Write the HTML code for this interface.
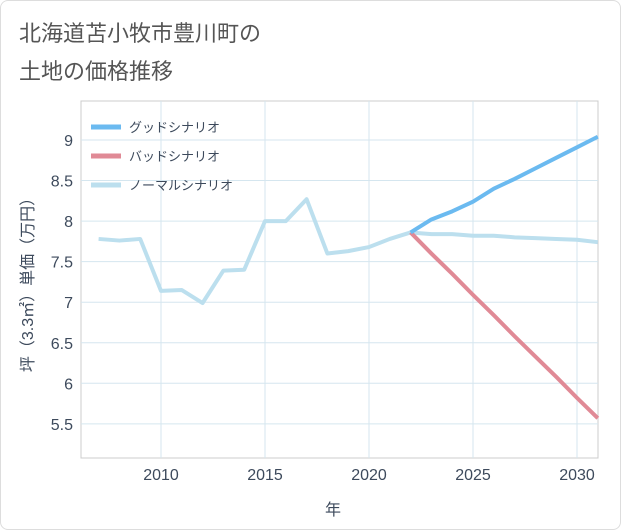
<!DOCTYPE html>
<html><head><meta charset="utf-8"><style>
body{margin:0;background:#fff;}
#card{position:absolute;left:0;top:0;width:619px;height:528px;border:1px solid #ddd;border-radius:8px;background:#fff;overflow:hidden;}
.t{font-family:"Liberation Sans","Noto Sans CJK JP",sans-serif;}
</style></head><body>
<div id="card">
<svg id="chart" width="621" height="530">
<text class="t" x="18" y="40" font-size="22" fill="#555">北海道苫小牧市豊川町の</text>
<text class="t" x="18" y="78" font-size="22" fill="#555">土地の価格推移</text>
<g id="grid"></g><g id="axes"></g><g id="series"></g><g id="legend"></g>
<text class="t" x="332" y="514" font-size="16" fill="#3d4a5c" text-anchor="middle">年</text>
<text class="t" transform="translate(32,280) rotate(-90)" font-size="16" fill="#3d4a5c" text-anchor="middle">坪（3.3㎡）単価（万円）</text>
</svg></div>
<script>
const years=[2007,2008,2009,2010,2011,2012,2013,2014,2015,2016,2017,2018,2019,2020,2021,2022,2023,2024,2025,2026,2027,2028,2029,2030,2031];
const normal=[7.78,7.76,7.78,7.14,7.15,6.99,7.39,7.40,8.0,8.0,8.27,7.6,7.63,7.68,7.78,7.86,7.84,7.84,7.82,7.82,7.8,7.79,7.78,7.77,7.74];
const goodYears=[2022,2023,2024,2025,2026,2027,2028,2029,2030,2031];
const good=[7.86,8.02,8.12,8.24,8.4,8.52,8.65,8.78,8.91,9.04];
const bad=[7.86,7.6,7.35,7.09,6.84,6.58,6.33,6.08,5.82,5.57];
const xTicks=[2010,2015,2020,2025,2030];
const yTicks=[5.5,6,6.5,7,7.5,8,8.5,9];
const seriesNames=["グッドシナリオ","バッドシナリオ","ノーマルシナリオ"];
const colors=["#6bbaf0","#e08a96","#bcdfee"];
const L=80,R=597,T=100,B=457;
const X=y=>160+(y-2010)*20.8;
const Y=v=>139+(9-v)*81.1;
const ns="http://www.w3.org/2000/svg";
function mk(p,tag,a){const e=document.createElementNS(ns,tag);for(const k in a)e.setAttribute(k,a[k]);document.getElementById(p).appendChild(e);return e;}
let r=mk('grid','rect',{x:L,y:T,width:R-L,height:B-T,fill:'none',stroke:'#ccc'});

yTicks.forEach(v=>{let l=mk('grid','line',{x1:L,x2:R,y1:Y(v),y2:Y(v),stroke:'#d5e6ef'});

let t=mk('axes','text',{x:L-8,y:Y(v)+6,'font-size':16,fill:'#3d4a5c','text-anchor':'end',class:'t'});t.textContent=v;
});
xTicks.forEach(v=>{let l=mk('grid','line',{x1:X(v),x2:X(v),y1:T,y2:B,stroke:'#d5e6ef'});

let t=mk('axes','text',{x:X(v),y:B+22,'font-size':16,fill:'#3d4a5c','text-anchor':'middle',class:'t'});t.textContent=v;
});
function line(xs,vs,c,name){let p=mk('series','polyline',{points:xs.map((y,i)=>X(y)+','+Y(vs[i])).join(' '),fill:'none',stroke:c,'stroke-width':4,'stroke-linejoin':'round'});
}
line(years,normal,colors[2],'normal-scenario-line');
line(goodYears,bad,colors[1],'bad-scenario-line');
line(goodYears,good,colors[0],'good-scenario-line');
seriesNames.forEach((n,i)=>{let y=126+i*29;
let l=mk('legend','line',{x1:90,x2:120,y1:y,y2:y,stroke:colors[i],'stroke-width':5});

let t=mk('legend','text',{x:128,y:y+5,'font-size':13,fill:'#3d4a5c',class:'t'});t.textContent=n;
});
</script></body></html>
